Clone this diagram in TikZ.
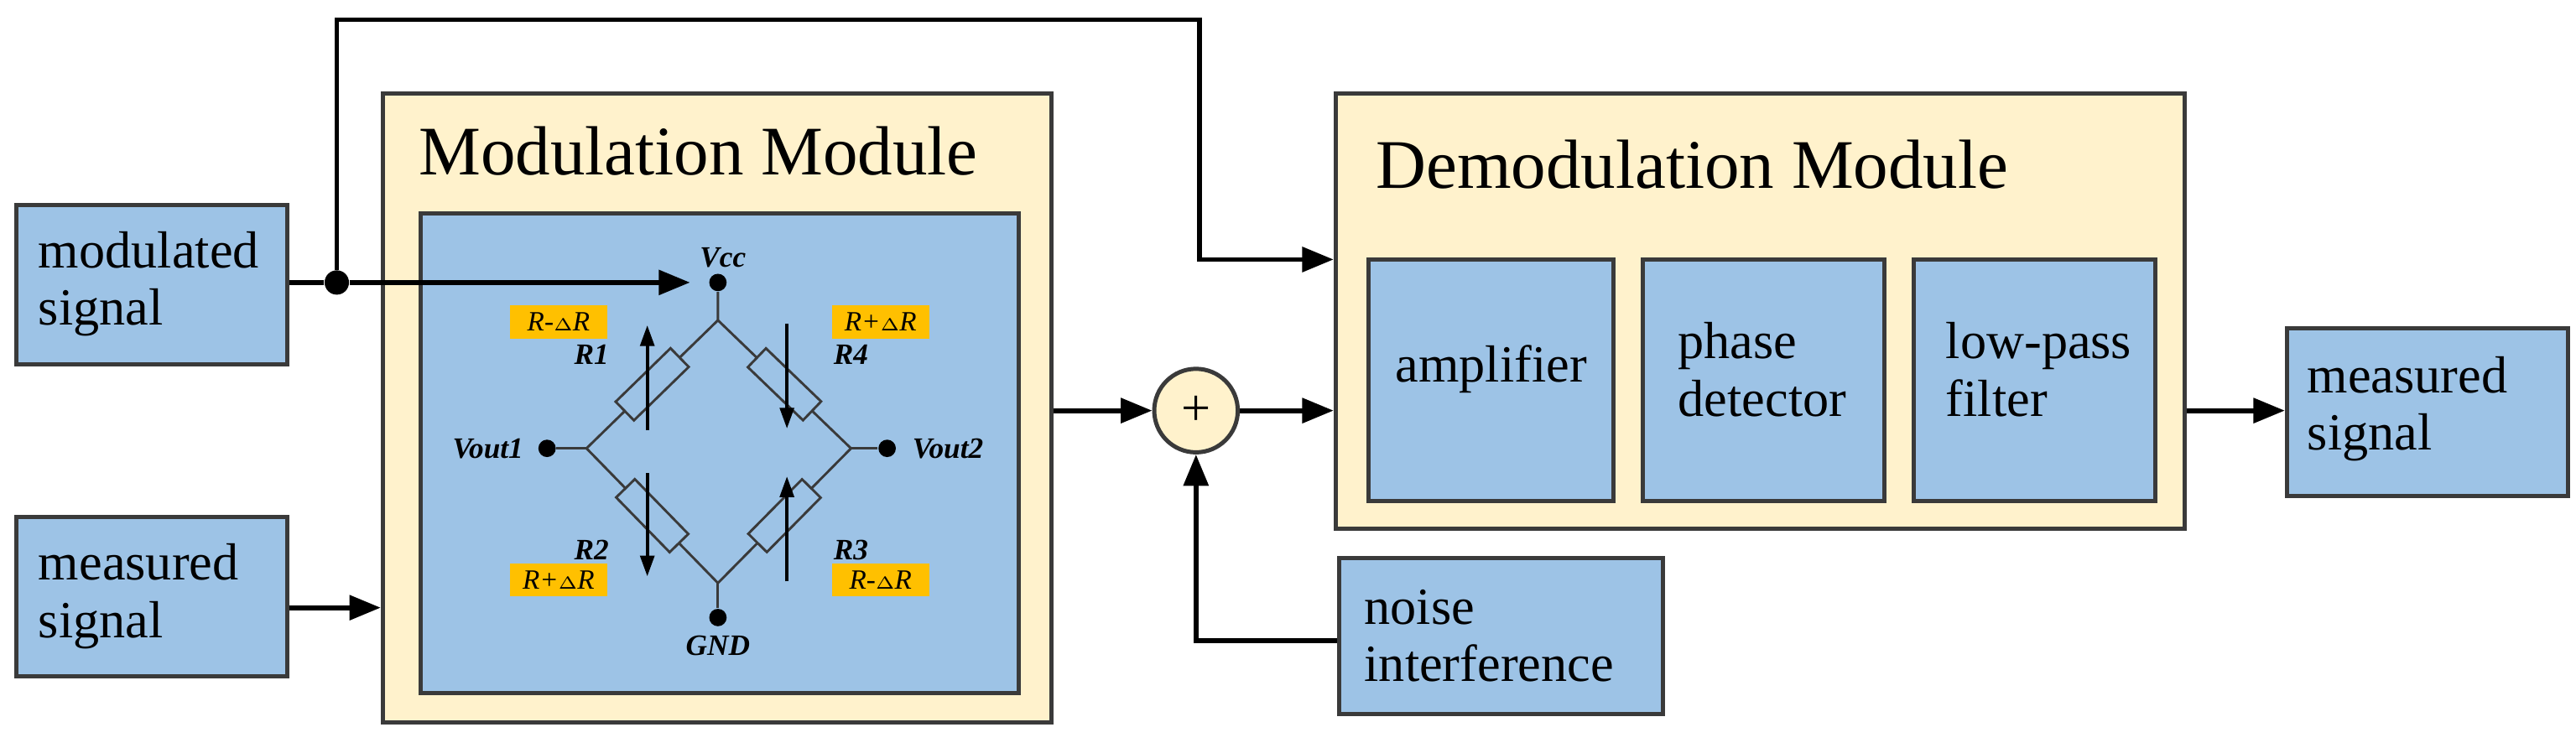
\documentclass[tikz,border=0pt]{standalone}
\usepackage{fontspec}
\setmainfont{Liberation Serif}
\usetikzlibrary{arrows.meta,fit}
\definecolor{bl}{HTML}{9DC3E6}
\definecolor{cr}{HTML}{FFF2CC}
\definecolor{og}{HTML}{FFC000}
\definecolor{bd}{HTML}{3A3A3A}
\begin{document}
\begin{tikzpicture}[x=0.01658cm,y=-0.01658cm,
  box/.style={draw=bd,line width=1.2pt,fill=bl,inner sep=0pt},
  mod/.style={draw=bd,line width=1.2pt,fill=cr,inner sep=0pt},
  txt/.style={font=\fontsize{15}{16.5}\selectfont,align=left},
  ttl/.style={font=\fontsize{20}{23}\selectfont},
  arr/.style={line width=1.4pt,-{Triangle[length=9pt,width=7pt]}},
  ln/.style={line width=1.4pt},
  wire/.style={line width=0.7pt,draw=bd},
  lab/.style={font=\fontsize{8.5}{9}\selectfont\bfseries\itshape},
  dot/.style={circle,fill=black,inner sep=0pt,minimum size=5pt}]
\useasboundingbox (0,0) rectangle (1568,455);
\node[box,fit={(10,125)(175,222)}] (ms) {};
\node[txt,anchor=west] at (16,173) {modulated\\signal};
\node[box,fit={(10,315)(175,412)}] (me) {};
\node[txt,anchor=west] at (16,363) {measured\\signal};
\node[mod,fit={(233,57)(640,440)}] (mm) {};
\node[ttl] at (425,92) {Modulation Module};
\node[box,fit={(256,130)(620,422)}] (ib) {};
\coordinate (T) at (437,195); \coordinate (L) at (357,273);
\coordinate (Rr) at (518,273); \coordinate (B) at (437,355);
\node[dot] (vcc) at (437,172) {}; \node[dot] (v1) at (333,273) {};
\node[dot] (v2) at (540,273) {}; \node[dot] (gnd) at (437,376) {};
\draw[wire] (vcc)--(T)--(L)--(B)--(Rr)--(T);
\draw[wire] (v1)--(L); \draw[wire] (v2)--(Rr); \draw[wire] (gnd)--(B);
\foreach \a/\b/\n in {T/L/r1,L/B/r2,B/Rr/r3,Rr/T/r4}{
  \path (\a) -- (\b) node[midway,sloped,draw=bd,line width=0.7pt,fill=bl,minimum width=22pt,minimum height=7.5pt,inner sep=0pt] (\n) {};}
\draw[line width=1pt,-{Triangle[length=6pt,width=4pt]}] (394,262) -- (394,198);
\draw[line width=1pt,-{Triangle[length=6pt,width=4pt]}] (394,288) -- (394,351);
\draw[line width=1pt,-{Triangle[length=6pt,width=4pt]}] (479,197) -- (479,261);
\draw[line width=1pt,-{Triangle[length=6pt,width=4pt]}] (479,354) -- (479,290);
\node[lab] at (440,157) {Vcc};
\node[lab] at (437,393) {GND};
\node[lab,anchor=east] at (326,273) {Vout1};
\node[lab,anchor=west] at (548,273) {Vout2};
\node[lab] at (360,216) {R1}; \node[lab] at (518,216) {R4};
\node[lab] at (360,335) {R2}; \node[lab] at (518,335) {R3};
\foreach \x/\y/\t in {340/196/{R-{\tiny$\Delta$}R},536/196/{R+{\tiny$\Delta$}R},340/353/{R+{\tiny$\Delta$}R},536/353/{R-{\tiny$\Delta$}R}}
  \node[font=\fontsize{8}{8}\selectfont\itshape,fill=og,minimum width=28pt,minimum height=9.5pt,inner sep=0pt] at (\x,\y) {\t};
\node[mod,fit={(813,57)(1330,322)}] (dm) {};
\node[ttl] at (1030,100) {Demodulation Module};
\node[box,fit={(833,158)(982,305)}] (amp) {};
\node[txt,anchor=west] at (842,225) {amplifier};
\node[box,fit={(1000,158)(1147,305)}] (pd) {};
\node[txt,anchor=west] at (1014,225) {phase\\detector};
\node[box,fit={(1165,158)(1312,305)}] (lp) {};
\node[txt,anchor=west] at (1177,225) {low-pass\\filter};
\node[box,fit={(1392,200)(1563,302)}] (out) {};
\node[txt,anchor=west] at (1397,249) {measured\\signal};
\node[circle,draw=bd,line width=1.2pt,fill=cr,minimum size=24pt,inner sep=0pt,font=\fontsize{15}{15}\selectfont] (sum) at (728,250) {+};
\node[box,fit={(815,340)(1012,435)}] (ni) {};
\node[txt,anchor=west] at (823,387) {noise\\interference};
\node[dot,minimum size=7pt] (j) at (205,172) {};
\draw[ln] (ms.east |- j) -- (j);
\draw[arr] (j) -- (420,172);
\coordinate (c1) at (205,12); \coordinate (c2) at (730,12); \coordinate (c3) at (730,158);
\draw[arr] (j) -- (c1) -- (c2) -- (c3) -- (dm.west |- c3);
\coordinate (m1) at (0,370);
\draw[arr] (me.east |- m1) -- (mm.west |- m1);
\draw[arr] (mm.east |- sum) -- (sum.west);
\draw[arr] (sum.east) -- (dm.west |- sum);
\coordinate (c4) at (728,390);
\draw[arr] (ni.west |- c4) -- (c4) -- (sum.south);
\draw[arr] (dm.east |- sum) -- (out.west |- sum);
\end{tikzpicture}
\end{document}
